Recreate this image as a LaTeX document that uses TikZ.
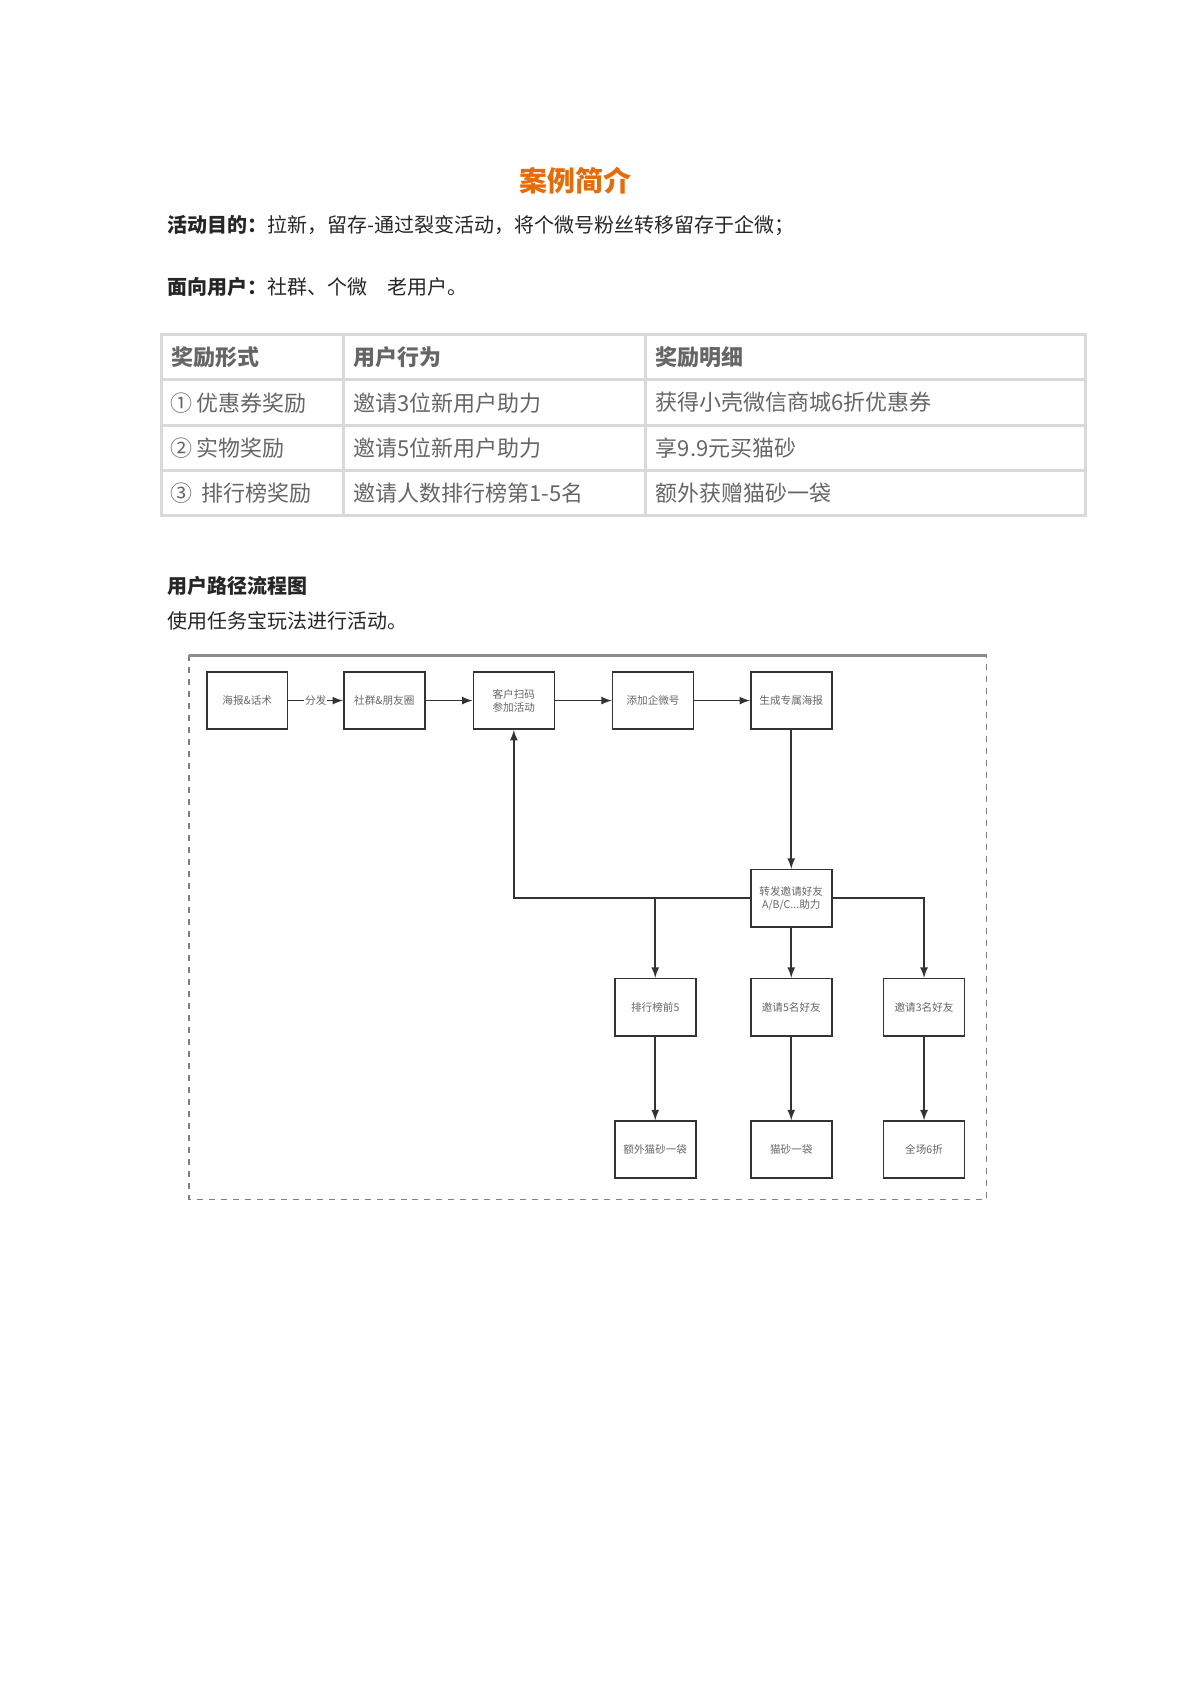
\documentclass[tikz,border=0pt]{standalone}
\usepackage{fontspec}
\setmainfont{Noto Sans CJK SC}
\begin{document}
\begin{tikzpicture}[x=0.54pt, y=-0.54pt,
  every node/.style={font=\fontsize{10}{12}\selectfont, text=black!85},
  flowbox/.style={rectangle, draw=black!80, thick, fill=white, minimum width=40.5pt, minimum height=28.6pt, align=center, inner sep=1pt, font=\fontsize{5.3}{6.5}\selectfont, text=black!60},
  cell/.style={anchor=west, font=\fontsize{11}{13}\selectfont, text=black!60},
  flow/.style={draw=black!80, thick, ->, >=latex}]
\useasboundingbox (0,0) rectangle (1103,1560);
\fill[white] (0,0) rectangle (1103,1560);
% title and intro
\node (T0) at (533,167) {\fontsize{14}{16}\selectfont\bfseries\color[HTML]{E46C0A}案例简介};
\node[anchor=west] (T1) at (149,209) {\bfseries 活动目的：\mdseries 拉新，留存-通过裂变活动，将个微号粉丝转移留存于企微；};
\node[anchor=west] (T2) at (149,266) {\bfseries 面向用户：\mdseries 社群、个微\quad 老用户。};
% table
\draw[black!15, line width=1.5pt] (150,310) rectangle (1006,478);
\foreach \yy in {352,394,436} \draw[black!15, line width=1.5pt] (150,\yy) -- (1006,\yy);
\foreach \xx in {318,598} \draw[black!15, line width=1.5pt] (\xx,310) -- (\xx,478);
\node[cell, font=\fontsize{11}{13}\selectfont\bfseries] (H1) at (152,331) {奖励形式};
\node[cell, font=\fontsize{11}{13}\selectfont\bfseries] (H2) at (321,331) {用户行为};
\node[cell, font=\fontsize{11}{13}\selectfont\bfseries] (H3) at (601,331) {奖励明细};
\node[cell] (R11) at (151,373) {① 优惠券奖励};
\node[cell] (R12) at (321,373) {邀请3位新用户助力};
\node[cell] (R13) at (601,373) {获得小壳微信商城6折优惠券};
\node[cell] (R21) at (151,415) {② 实物奖励};
\node[cell] (R22) at (321,415) {邀请5位新用户助力};
\node[cell] (R23) at (601,415) {享9.9元买猫砂};
\node[cell] (R31) at (151,457) {③ \ 排行榜奖励};
\node[cell] (R32) at (321,457) {邀请人数排行榜第1-5名};
\node[cell] (R33) at (601,457) {额外获赠猫砂一袋};
% flow chart
\node[anchor=west] (T3) at (149,543) {\bfseries 用户路径流程图};
\node[anchor=west] (T4) at (149,575) {使用任务宝玩法进行活动。};
\draw[black!50, dashed, thick] (175,607) rectangle (914,1111);
\draw[black!45, line width=1.5pt] (175,607) -- (914,607);
\node[flowbox] (N1) at (229,649) {海报\&话术};
\node[flowbox] (N2) at (356,649) {社群\&朋友圈};
\node[flowbox] (N3) at (476,649) {客户扫码\\参加活动};
\node[flowbox] (N4) at (605,649) {添加企微号};
\node[flowbox] (N5) at (733,649) {生成专属海报};
\node[flowbox] (N6) at (733,832) {转发邀请好友\\A/B/C...助力};
\node[flowbox] (N7) at (607,933) {排行榜前5};
\node[flowbox] (N8) at (733,933) {邀请5名好友};
\node[flowbox] (N9) at (856,933) {邀请3名好友};
\node[flowbox] (N10) at (607,1065) {额外猫砂一袋};
\node[flowbox] (N11) at (733,1065) {猫砂一袋};
\node[flowbox] (N12) at (856,1065) {全场6折};
\draw[flow] (N1) -- node[fill=white, inner sep=0.5pt, font=\fontsize{5.3}{6.5}\selectfont, text=black!60] {分发} (N2);
\draw[flow] (N2) -- (N3);
\draw[flow] (N3) -- (N4);
\draw[flow] (N4) -- (N5);
\draw[flow] (N5) -- (N6);
\draw[flow] (N6.west) -| (N3.south);
\draw[flow] (N6.west -| N7.north) -- (N7.north);
\draw[flow] (N6) -- (N8);
\draw[flow] (N6.east) -| (N9.north);
\draw[flow] (N7) -- (N10);
\draw[flow] (N8) -- (N11);
\draw[flow] (N9) -- (N12);
\end{tikzpicture}
\end{document}
